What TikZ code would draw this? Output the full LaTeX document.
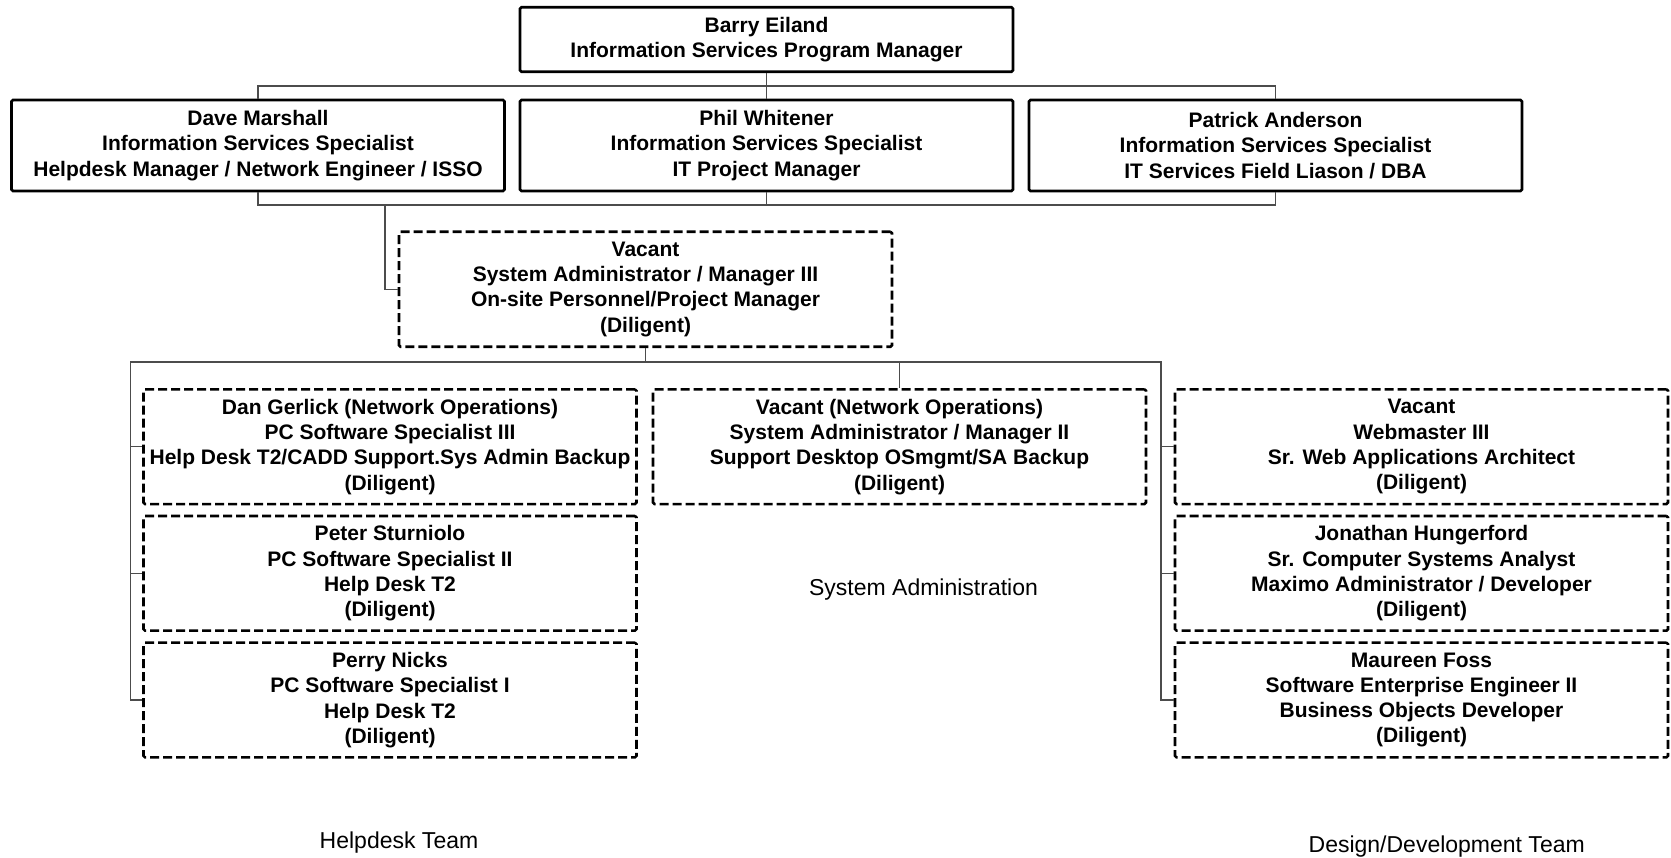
\documentclass[tikz,border=0pt]{standalone}
\usepackage{fontspec}
\setmainfont{Liberation Sans}
\usepackage{tikz}

\begin{document}
\begin{tikzpicture}[x=1pt,y=-1pt,
  solidbox/.style={draw,line width=2.6pt,rounded corners=1.5pt,minimum width=493pt,align=center,inner sep=0pt,font=\fontsize{21}{25.3}\selectfont\bfseries},
  vacbox/.style={solidbox,dash pattern=on 9pt off 4pt},
  conn/.style={draw=black!70,line width=1.1pt},
  team/.style={font=\fontsize{23}{27}\selectfont}]
\useasboundingbox (0,0) rectangle (1671,858);
\node[solidbox,minimum height=64.5pt] (barry) at (766.5,39.5) {Barry Eiland\\Information Services Program Manager};
\node[solidbox,minimum height=91pt] (dave) at (258,145.5) {Dave Marshall\\Information Services Specialist\\Helpdesk Manager / Network Engineer / ISSO};
\node[solidbox,minimum height=91pt] (phil) at (766.5,145.5) {Phil Whitener\\Information Services Specialist\\IT Project Manager};
\node[solidbox,minimum height=91pt] (patrick) at (1275.5,145.5) {Patrick Anderson\\Information Services Specialist\\IT Services Field Liason / DBA};
\node[vacbox,minimum height=115pt] (vacmgr) at (645.5,289.3) {Vacant\\System Administrator / Manager III\\On-site Personnel/Project Manager\\(Diligent)};
\node[vacbox,minimum height=114.7pt] (dan) at (390,446.7) {Dan Gerlick (Network Operations)\\PC Software Specialist III\\Help Desk T2/CADD Support.Sys Admin Backup\\(Diligent)};
\node[vacbox,minimum height=114.7pt] (peter) at (390,573.3) {Peter Sturniolo\\PC Software Specialist II\\Help Desk T2\\(Diligent)};
\node[vacbox,minimum height=114.7pt] (perry) at (390,700) {Perry Nicks\\PC Software Specialist I\\Help Desk T2\\(Diligent)};
\node[vacbox,minimum height=114.7pt] (vacnet) at (899.5,446.7) {Vacant (Network Operations)\\System Administrator / Manager II\\Support Desktop OSmgmt/SA Backup\\(Diligent)};
\node[vacbox,minimum height=114.7pt] (vacweb) at (1421.5,446.7) {Vacant\\Webmaster III\\Sr. Web Applications Architect\\(Diligent)};
\node[vacbox,minimum height=114.7pt] (jonathan) at (1421.5,573.3) {Jonathan Hungerford\\Sr. Computer Systems Analyst\\Maximo Administrator / Developer\\(Diligent)};
\node[vacbox,minimum height=114.7pt] (maureen) at (1421.5,700) {Maureen Foss\\Software Enterprise Engineer II\\Business Objects Developer\\(Diligent)};
\node[team] (sysadm) at (923.5,590) {System Administration};
\node[team] (helpdesk) at (399,843) {Helpdesk Team};
\node[team] (design) at (1446.7,846.7) {Design/Development Team};
\coordinate (topbus) at (0,86);
\coordinate (midbus) at (0,205);
\coordinate (mgrtap) at (385,205);
\coordinate (leftrail) at (130.6,362);
\coordinate (rightrail) at (1161,362);
\draw[conn] (barry.south) -- (barry.south |- topbus);
\draw[conn] (dave.north) |- (patrick.north |- topbus) -- (patrick.north);
\draw[conn] (phil.north) -- (phil.north |- topbus);
\draw[conn] (dave.south) |- (patrick.south |- midbus) -- (patrick.south);
\draw[conn] (phil.south) -- (phil.south |- midbus);
\draw[conn] (mgrtap) |- (vacmgr.west);
\draw[conn] (vacmgr.south) -- (vacmgr.south |- leftrail);
\draw[conn] (vacnet.north) -- (vacnet.north |- leftrail);
\draw[conn] (perry.west) -| (leftrail) -- (rightrail) |- (maureen.west);
\draw[conn] (dan.west) -- (dan.west -| leftrail);
\draw[conn] (peter.west) -- (peter.west -| leftrail);
\draw[conn] (vacweb.west) -- (vacweb.west -| rightrail);
\draw[conn] (jonathan.west) -- (jonathan.west -| rightrail);
\end{tikzpicture}
\end{document}
